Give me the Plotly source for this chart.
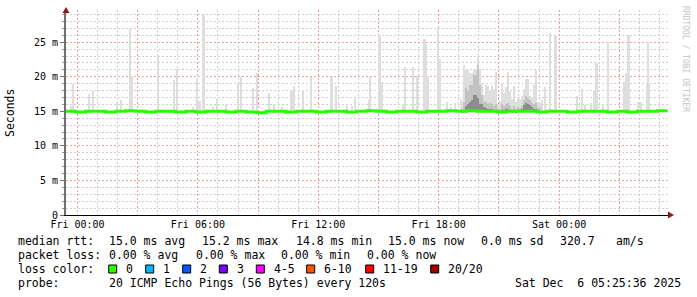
import plotly.graph_objects as go
import pandas as pd

# ---------------- data ----------------
x_start = "2025-12-04 23:25:36"
x_end = "2025-12-06 05:25:36"

x_major_ticks = ["2025-12-05 00:00", "2025-12-05 03:00", "2025-12-05 06:00", "2025-12-05 09:00",
                 "2025-12-05 12:00", "2025-12-05 15:00", "2025-12-05 18:00", "2025-12-05 21:00",
                 "2025-12-06 00:00", "2025-12-06 03:00"]
x_major_labels = ["Fri 00:00", "", "Fri 06:00", "", "Fri 12:00", "", "Fri 18:00", "", "Sat 00:00", ""]

y_ticks = [0, 5, 10, 15, 20, 25]
y_labels = ["0", "5 m", "10 m", "15 m", "20 m", "25 m"]

# median rtt (ms), every 30 min starting 23:24
median_start = "2025-12-04 23:24"
median_ms = [15.0, 14.9, 15.0, 15.0, 14.9, 15.0, 15.1, 15.0, 14.9, 15.0,
             15.0, 14.9, 15.0, 14.9, 15.0, 15.0, 14.9, 15.0, 14.9, 14.8,
             15.0, 15.0, 14.9, 15.0, 15.0, 14.9, 15.0, 15.0, 14.9, 15.0,
             15.1, 15.0, 14.9, 15.0, 15.0, 14.9, 15.0, 15.0, 15.1, 15.0,
             15.1, 15.0, 15.0, 14.9, 15.0, 15.0, 15.0, 14.9, 15.0, 15.0,
             14.9, 15.0, 15.0, 15.0, 14.9, 15.0, 14.9, 15.0, 15.0, 15.1, 15.1]

# isolated smoke spikes (max ping, ms)
spike_time = [
    "2025-12-04 23:40", "2025-12-04 23:46",
    "2025-12-05 00:34", "2025-12-05 00:46", "2025-12-05 01:58", "2025-12-05 02:10", "2025-12-05 02:37",
    "2025-12-05 02:40", "2025-12-05 02:43", "2025-12-05 04:00", "2025-12-05 04:48", "2025-12-05 04:57",
    "2025-12-05 05:45", "2025-12-05 05:57", "2025-12-05 06:03", "2025-12-05 06:06", "2025-12-05 06:15",
    "2025-12-05 06:18", "2025-12-05 06:45", "2025-12-05 06:57", "2025-12-05 07:24", "2025-12-05 08:00",
    "2025-12-05 08:09", "2025-12-05 08:45", "2025-12-05 08:57", "2025-12-05 09:33", "2025-12-05 09:48",
    "2025-12-05 10:11", "2025-12-05 10:38", "2025-12-05 10:41", "2025-12-05 10:47", "2025-12-05 11:14",
    "2025-12-05 11:38", "2025-12-05 12:38", "2025-12-05 12:41", "2025-12-05 12:53", "2025-12-05 13:25",
    "2025-12-05 13:40", "2025-12-05 13:50", "2025-12-05 14:31", "2025-12-05 14:34", "2025-12-05 15:01",
    "2025-12-05 15:04", "2025-12-05 15:10", "2025-12-05 16:13", "2025-12-05 16:16", "2025-12-05 16:19",
    "2025-12-05 16:43", "2025-12-05 16:55", "2025-12-05 17:16", "2025-12-05 17:19", "2025-12-05 17:22",
    "2025-12-05 17:25", "2025-12-05 17:28", "2025-12-05 17:58", "2025-12-05 18:01", "2025-12-05 18:04",
    "2025-12-05 18:25", "2025-12-05 18:37", "2025-12-05 18:49", "2025-12-05 19:07", "2025-12-05 23:09",
    "2025-12-05 23:18", "2025-12-05 23:33", "2025-12-05 23:48", "2025-12-05 23:51",
    "2025-12-06 00:53", "2025-12-06 01:08", "2025-12-06 01:17", "2025-12-06 01:35", "2025-12-06 01:44",
    "2025-12-06 01:50", "2025-12-06 01:53", "2025-12-06 02:11", "2025-12-06 02:26", "2025-12-06 03:14",
    "2025-12-06 03:17", "2025-12-06 03:20", "2025-12-06 03:26", "2025-12-06 03:29", "2025-12-06 03:56",
    "2025-12-06 04:05", "2025-12-06 04:23", "2025-12-06 04:26", "2025-12-06 04:29"]
spike_max = [
    15.8, 19.0,
    17.5, 18.0, 16.4, 16.6, 27.1, 19.9, 19.9, 23.2, 19.5, 21.1,
    15.7, 19.8, 16.5, 16.5, 28.9, 28.9, 15.6, 16.8, 16.1, 19.1,
    19.9, 18.4, 20.5, 17.7, 16.1, 15.7, 18.1, 18.1, 18.7, 18.1,
    20.0, 19.9, 19.9, 18.7, 15.8, 15.8, 17.1, 16.6, 20.0, 26.1,
    26.1, 19.2, 16.1, 16.1, 21.4, 21.4, 20.1, 25.5, 25.5, 24.7,
    20.1, 20.1, 27.1, 22.6, 22.6, 16.3, 15.6, 16.2, 16.8, 16.6,
    18.5, 26.3, 25.9, 25.9,
    17.2, 18.2, 15.9, 16.2, 17.9, 22.0, 22.0, 15.8, 25.0, 19.2,
    19.2, 20.5, 26.1, 26.1, 16.4, 16.4, 19.0, 25.0, 19.0]

# dense smoke period (6 min bins)
dense_time = ["19:10", "19:16", "19:22", "19:28", "19:34", "19:40", "19:46", "19:52", "19:58", "20:04",
              "20:10", "20:16", "20:22", "20:28", "20:34", "20:40", "20:46", "20:52", "20:58", "21:04",
              "21:10", "21:16", "21:22", "21:28", "21:34", "21:40", "21:46", "21:52", "21:58", "22:04",
              "22:10", "22:16", "22:22", "22:28", "22:34", "22:40", "22:46", "22:52", "22:58", "23:04"]
dense_max = [16.4, 21.7, 21.0, 21.0, 20.5, 20.5, 21.2, 21.2, 22.9, 21.2,
             19.0, 17.4, 18.8, 18.7, 18.0, 18.7, 18.3, 20.7, 16.0, 16.5,
             19.1, 17.6, 18.5, 20.7, 17.9, 16.8, 18.7, 16.3, 17.0, 16.8,
             17.2, 18.2, 19.7, 19.7, 17.2, 17.0, 18.8, 21.0, 16.4, 16.2]
dense_mid = [15.3, 16.4, 18.4, 18.0, 18.8, 18.8, 20.3, 20.3, 21.7, 18.8,
             17.4, 16.4, 16.4, 16.0, 16.2, 16.0, 15.8, 16.0, 15.4, 15.4,
             16.0, 15.8, 16.0, 16.2, 15.8, 15.4, 15.8, 15.4, 15.6, 15.5,
             15.8, 16.6, 17.2, 17.0, 16.6, 16.2, 16.0, 16.2, 15.6, 15.5]
dense_core = [15.0, 15.2, 15.8, 16.0, 16.4, 16.6, 17.4, 17.4, 17.0, 16.1,
              16.0, 15.6, 15.5, 15.3, 15.4, 15.3, 15.2, 15.2, 15.1, 15.1,
              15.2, 15.2, 15.3, 15.3, 15.2, 15.1, 15.2, 15.1, 15.2, 15.2,
              15.3, 15.9, 16.2, 16.0, 15.9, 15.6, 15.3, 15.3, 15.2, 15.1]
smoke_floor = 14.9

loss_labels = ["0", "1", "2", "3", "4-5", "6-10", "11-19", "20/20"]
loss_colors = ["#26ff00", "#00b8ff", "#0059ff", "#7e00ff", "#ff00ff", "#ff5500", "#ff0000", "#a10000"]

# ---------------- layout geometry ----------------
W, H = 697, 297
L, R, T, B = 66, 668, 10, 215
PX_PER_MS = 6.91
YMAX = (B - T) / PX_PER_MS


def fx(px):
    return (px - L) / (R - L)


def fy(py):
    return (B - py) / (B - T)


MONO = "DejaVu Sans Mono"
GRID = "#cfcfcf"
MGRID = "#e6a3a3"

fig = go.Figure()

# smoke: isolated spikes
fig.add_trace(go.Bar(
    x=pd.to_datetime(spike_time), y=[m - smoke_floor for m in spike_max],
    base=[smoke_floor] * len(spike_max), width=160000,
    marker=dict(color="#dedede", line=dict(width=0)), hoverinfo="skip"))

dense_dt = pd.to_datetime(["2025-12-05 " + t for t in dense_time])
for vals, col in [(dense_max, "#dedede"), (dense_mid, "#c2c2c2"), (dense_core, "#8c8c8c")]:
    fig.add_trace(go.Bar(
        x=dense_dt, y=[v - smoke_floor for v in vals], base=[smoke_floor] * len(vals),
        width=300000, marker=dict(color=col, line=dict(width=0)), hoverinfo="skip"))

# median line
med_t = pd.date_range(median_start, periods=len(median_ms), freq="30min")
fig.add_trace(go.Scatter(x=med_t, y=median_ms, mode="lines",
                         line=dict(color="#26ff00", width=3, shape="hv"), hoverinfo="skip"))

annotations = []


def txt(s, px, py, size=11.5, color="black", angle=0, anchor="left"):
    annotations.append(dict(text=s.replace("  ", "\u00a0\u00a0"), x=fx(px), y=fy(py), xref="paper", yref="paper",
                            xanchor=anchor, yanchor="middle", showarrow=False, textangle=angle,
                            font=dict(family=MONO, size=size, color=color)))


# legend lines
txt("median rtt:", 16, 241)
for s, px in [("15.0 ms avg", 107.3), ("15.2 ms max", 200.3), ("14.8 ms min", 294),
              ("15.0 ms now", 386), ("0.0 ms sd", 479.3), ("320.7", 558.3), ("am/s", 614)]:
    txt(s, px, 241)
txt("packet loss:", 16, 255)
for s, px in [("0.00 % avg", 107.3), ("0.00 % max", 193.7), ("0.00 % min", 279.3), ("0.00 % now", 365)]:
    txt(s, px, 255)
txt("loss color:", 16, 269)
box_x = [108.7, 145.7, 182.7, 219.3, 256.3, 306.7, 365.7, 430.7]
shapes = []
for lab, col, bx in zip(loss_labels, loss_colors, box_x):
    shapes.append(dict(type="rect", xref="paper", yref="paper", x0=fx(bx), x1=fx(bx + 8),
                       y0=fy(273), y1=fy(265), fillcolor=col, line=dict(color="black", width=1)))
    txt(lab, bx + 15.5, 269)
txt("probe:", 16, 283)
txt("20 ICMP Echo Pings (56 Bytes) every 120s", 107.3, 283)
txt("Sat Dec  6 05:25:36 2025", 513.3, 283)

txt("Seconds", 10, 113, angle=-90, anchor="center")
txt("RRDTOOL / TOBI OETIKER", 686, 59, size=8, color="#c4c4c4", angle=90, anchor="center")

# axis arrows
ARROW = "#8b1a1a"
shapes.append(dict(type="path", xref="paper", yref="paper",
                   path=f"M {fx(66)} {fy(7)} L {fx(62.5)} {fy(13)} L {fx(69.5)} {fy(13)} Z",
                   fillcolor=ARROW, line=dict(color=ARROW, width=0)))
shapes.append(dict(type="path", xref="paper", yref="paper",
                   path=f"M {fx(674)} {fy(215)} L {fx(668)} {fy(211.5)} L {fx(668)} {fy(218.5)} Z",
                   fillcolor=ARROW, line=dict(color=ARROW, width=0)))

fig.update_layout(
    width=W, height=H, autosize=False,
    margin=dict(l=L, r=W - R, t=T, b=H - B, pad=0),
    paper_bgcolor="white", plot_bgcolor="white",
    showlegend=False, barmode="overlay", bargap=0,
    annotations=annotations, shapes=shapes,
    xaxis=dict(type="date", range=[x_start, x_end], tickmode="array",
               tickvals=x_major_ticks, ticktext=x_major_labels,
               showgrid=True, gridcolor=MGRID, griddash="2px,2px", gridwidth=1,
               minor=dict(tickmode="linear", tick0="2025-12-05 00:00", dtick=3600000,
                          showgrid=True, gridcolor=GRID, griddash="2px,2px", gridwidth=1),
               showline=True, linecolor="black", linewidth=1, ticks="", zeroline=False,
               tickfont=dict(family=MONO, size=10, color="black"), fixedrange=True),
    yaxis=dict(range=[0, YMAX], tickmode="array", tickvals=y_ticks, ticktext=y_labels,
               showgrid=True, gridcolor=MGRID, griddash="2px,2px", gridwidth=1,
               minor=dict(tickmode="linear", tick0=0, dtick=1, showgrid=True, gridcolor=GRID,
                          griddash="2px,2px", gridwidth=1, ticks="outside", ticklen=2, tickcolor="#999999"),
               showline=True, linecolor="#707070", linewidth=2, ticks="outside", ticklen=4,
               tickcolor="#707070", zeroline=False,
               tickfont=dict(family=MONO, size=10, color="black"), fixedrange=True),
)

fig.write_html("out.html")
